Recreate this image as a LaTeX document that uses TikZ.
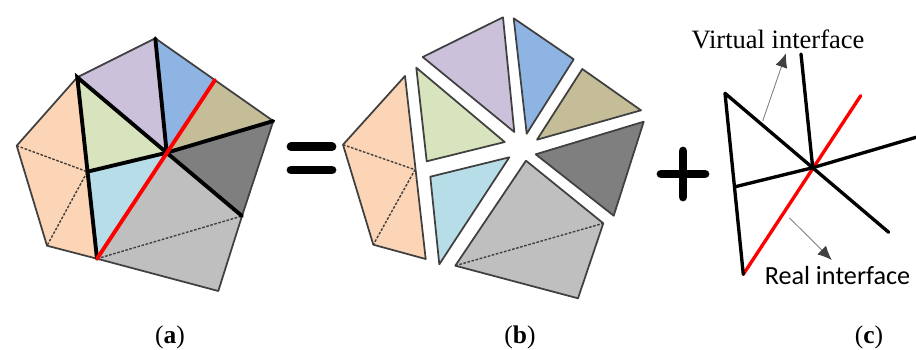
\documentclass[tikz,border=0pt]{standalone}
\usepackage{xcolor}
\usepackage{fontspec}
\setmainfont{Liberation Serif}
\newfontfamily\reallabfont{Carlito}
\usetikzlibrary{arrows.meta}
\definecolor{figorange}{RGB}{251,213,181}
\definecolor{figpurple}{RGB}{204,193,218}
\definecolor{figblue}{RGB}{142,180,227}
\definecolor{figtan}{RGB}{196,189,151}
\definecolor{figgreen}{RGB}{215,228,189}
\definecolor{figcyan}{RGB}{183,222,232}
\definecolor{figdark}{RGB}{127,127,127}
\definecolor{figgrey}{RGB}{191,191,191}
\definecolor{figline}{RGB}{64,64,64}
\definecolor{figred}{RGB}{255,0,0}
\tikzset{
  pc/.style  ={draw=figline, line width=1pt, line join=round},
  dsh/.style ={draw=figline, line width=0.8pt, dash pattern=on 1.5pt off 0.9pt},
  vif/.style ={draw=black, line width=2.2pt, line cap=round},
  rif/.style ={draw=figred, line width=2.2pt, line cap=round},
  sgn/.style ={draw=black, line width=5pt, line cap=round},
  ptr/.style ={draw=gray, line width=0.5pt, -{Latex[length=8pt,width=7pt,color=figline]}},
  lab/.style ={font=\fontsize{14.5}{16}\selectfont, inner sep=1pt},
  vlab/.style={font=\fontsize{15.1}{17}\selectfont, inner sep=1pt},
  rlab/.style={font=\reallabfont\fontsize{14.9}{17}\selectfont, inner sep=1pt},
}
\begin{document}
\begin{tikzpicture}[x=0.02cm,y=-0.02cm]
  \useasboundingbox (0,0) rectangle (916,349);
  % whole element
  \coordinate (aT) at (155.3,38.3);
  \coordinate (aU) at (77.3,77.3);
  \coordinate (aL) at (16.7,145.7);
  \coordinate (aK) at (47,245.7);
  \coordinate (aB) at (97,258.7);
  \coordinate (aG) at (218.3,291);
  \coordinate (aS) at (242,216);
  \coordinate (aR) at (273.3,121);
  \coordinate (aE) at (215,80);
  \coordinate (aC) at (166.7,152.7);
  \coordinate (aM) at (87.3,171.7);
  \fill[figorange] (aU) -- (aL) -- (aK) -- (aB) -- (aM) -- cycle;
  \fill[figpurple] (aT) -- (aU) -- (aC) -- cycle;
  \fill[figblue] (aT) -- (aE) -- (aC) -- cycle;
  \fill[figtan] (aE) -- (aR) -- (aC) -- cycle;
  \fill[figdark] (aR) -- (aS) -- (aC) -- cycle;
  \fill[figgrey] (aC) -- (aS) -- (aG) -- (aB) -- cycle;
  \fill[figcyan] (aC) -- (aB) -- (aM) -- cycle;
  \fill[figgreen] (aU) -- (aC) -- (aM) -- cycle;
  \draw[pc] (aU) -- (aT) -- (aR) -- (aS) -- (aG) -- (aB) -- (aK) -- (aL) -- cycle;
  \draw[dsh] (aL) -- (aM) -- (aK);
  \draw[dsh] (aB) -- (aS);
  \draw[vif] (aT) -- (aC) -- (aU) -- (aB);
  \draw[vif] (aM) -- (aC) -- (aR);
  \draw[vif] (aC) -- (aS);
  \draw[rif] (aE) -- (aB);
  % equals sign
  \draw[sgn] (291,146.7) -- (332,146.7);
  \draw[sgn] (291,170) -- (332,170);
  % separated parts
  \coordinate (bL) at (343,144.7);
  \coordinate (bM) at (415,169.7);
  \coordinate (bK) at (373.3,244.7);
  \coordinate (bS) at (603.3,223.3);
  \coordinate (bB) at (455.3,265.7);
  \draw[pc,fill=figorange] (405,76) -- (bL) -- (bK) -- (425.7,259) -- cycle;
  \draw[dsh] (bL) -- (bM) -- (bK);
  \draw[pc,fill=figpurple] (503,17.3) -- (422.7,57) -- (514.3,132) -- cycle;
  \draw[pc,fill=figblue] (513.7,18.3) -- (573.7,59.3) -- (526.7,133.7) -- cycle;
  \draw[pc,fill=figtan] (582.3,69) -- (641,110.3) -- (537,139.7) -- cycle;
  \draw[pc,fill=figdark] (643.7,121.7) -- (613.7,215.7) -- (535.7,154.3) -- cycle;
  \draw[pc,fill=figgrey] (526,160.7) -- (bS) -- (578,298.3) -- (bB) -- cycle;
  \draw[dsh] (bB) -- (bS);
  \draw[pc,fill=figcyan] (509.3,157.3) -- (430.3,176.7) -- (439.3,264.3) -- cycle;
  \draw[pc,fill=figgreen] (416.3,67.7) -- (504.7,142) -- (426.7,161.3) -- cycle;
  % plus sign
  \draw[sgn] (661,174) -- (705,174);
  \draw[sgn] (683,151) -- (683,197);
  % interfaces
  \coordinate (cC) at (812.7,167.7);
  \coordinate (cT) at (801,54);
  \coordinate (cU) at (725,93.3);
  \coordinate (cE) at (860.7,95.7);
  \coordinate (cR) at (916,137.3);
  \coordinate (cS) at (888.7,232.3);
  \coordinate (cM) at (735.3,186.7);
  \coordinate (cB) at (743.3,274.3);
  \draw[rif,line width=1.9pt] (cE) -- (cB);
  \draw[vif,line width=1.9pt] (cT) -- (cC);
  \draw[vif,line width=1.9pt,line join=round] (cB) -- (cU) -- (cS);
  \draw[vif,line width=1.9pt] (cM) -- (cC) -- (cR);
  \node[vlab] (vi) at (778,39) {Virtual interface};
  \node[rlab] (ri) at (837.5,275) {Real interface};
  \coordinate (vs) at (762.7,121);
  \coordinate (ve) at (786,53.3);
  \coordinate (rs) at (789.3,217.7);
  \coordinate (re) at (831.7,260);
  \draw[ptr] (vs) -- (ve);
  \draw[ptr] (rs) -- (re);
  % captions
  \node[lab] (capa) at (170,337) {(\textbf{a})};
  \node[lab] (capb) at (520,337) {(\textbf{b})};
  \node[lab] (capc) at (869,337) {(\textbf{c})};
\end{tikzpicture}
\end{document}
